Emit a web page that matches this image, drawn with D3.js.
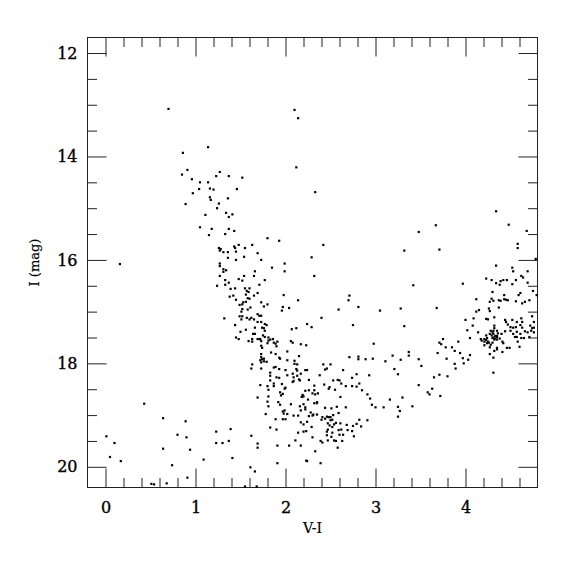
<!DOCTYPE html>
<html>
<head>
<meta charset="utf-8">
<script src="https://cdn.jsdelivr.net/npm/d3@7"></script>
<style>
  body { margin: 0; background: #fff; }
  svg { display: block; }
  .tick text { font-family: "DejaVu Serif", serif; font-size: 16px; fill: #000; stroke: #000; stroke-width: 0.35px; }
  .tick line { stroke: #222; }
  .axis-title { font-family: "DejaVu Serif", serif; font-size: 14px; fill: #000; stroke: #000; stroke-width: 0.2px; }
</style>
</head>
<body>
<svg id="chart" width="575" height="575"></svg>
<script>
// [V-I, I] pairs

// bright branch, V-I ~ 0.8 - 1.5
const upperBranch = [
  [0.70,13.08],[1.14,13.82],[0.86,13.93],[0.91,14.26],[0.85,14.35],[1.27,14.30],[1.23,14.38],[1.37,14.38],
  [0.96,14.44],[1.05,14.50],[1.14,14.50],[1.04,14.63],[1.16,14.62],[1.20,14.64],[1.46,14.63],
  [2.10,13.10],[2.14,13.26],[2.12,14.21],[1.52,14.41],[2.33,14.69],
  [0.97,14.71],[1.16,14.79],[1.17,14.84],[1.36,14.81],[0.89,14.92],[1.26,14.91],[1.24,15.00],[1.34,15.09],
  [1.41,15.12],[1.11,15.13],[1.37,15.17],[1.05,15.37],[1.18,15.40],[1.37,15.40],[1.43,15.44],[1.15,15.52],
  [1.33,15.50],[1.48,15.71],[1.43,15.74],[1.44,15.77],[1.26,15.77],[1.28,15.79],[1.27,15.82],[1.31,15.85],
  [1.36,15.85],[1.45,15.84],[1.36,15.96],[1.45,16.00],[0.16,16.08],[1.27,16.07],[1.27,16.12],[1.31,16.18],
  [1.34,16.20],[1.31,16.23],[1.27,16.31],[1.48,16.37],[1.33,16.39],[1.37,16.44],[1.24,16.50],[1.33,16.48],
  [1.39,16.56],[1.44,16.55],[1.38,16.71],[1.42,16.69],[1.45,16.77],[1.49,16.87],[1.32,17.13],[1.44,17.26],
  [1.45,17.50],[1.48,17.53]
];

// V-I ~ 1.5 - 3, I ~ 15.5 - 17.5
const midBranch = [
  [1.80,15.58],[1.93,15.63],[1.55,15.77],[1.63,15.71],[2.42,15.71],[1.69,15.87],[1.54,15.94],[2.29,15.95],
  [1.73,16.00],[1.99,16.07],[1.85,16.15],[1.99,16.22],[1.66,16.22],[1.54,16.31],[1.65,16.31],[2.32,16.31],
  [1.52,16.40],[1.77,16.39],[1.71,16.48],[1.55,16.55],[1.60,16.55],[1.57,16.60],[1.59,16.62],[1.69,16.64],
  [1.56,16.67],[1.65,16.69],[1.98,16.68],[2.71,16.69],[1.58,16.74],[1.60,16.75],[2.14,16.78],[2.70,16.78],
  [1.53,16.82],[1.56,16.81],[1.52,16.86],[1.73,16.82],[1.80,16.86],[1.76,16.90],[1.61,16.92],[1.97,16.91],
  [2.04,16.93],[2.81,16.91],[1.52,16.95],[1.58,16.96],[1.51,17.00],[1.96,16.98],[2.59,16.96],[3.05,16.98],
  [1.69,17.05],[1.71,17.08],[1.73,17.08],[1.49,17.09],[1.52,17.09],[1.57,17.12],[1.60,17.15],[1.62,17.12],
  [1.65,17.15],[1.51,17.15],[1.69,17.20],[1.73,17.20],[1.77,17.24],[1.79,17.26],[1.74,17.31],[1.76,17.32],
  [1.66,17.31],[1.56,17.35],[1.50,17.39],[2.24,17.24],[2.29,17.30],[2.07,17.34],[2.12,17.32],[2.40,17.12],
  [2.75,17.26],[1.64,17.43],[1.66,17.43],[1.77,17.37],[1.75,17.46],[1.77,17.49],[1.81,17.50],[1.86,17.53],
  [1.83,17.54],[1.63,17.53],[1.69,17.53],[1.71,17.53],[1.72,17.53]
];

// faint clump, V-I ~ 1.6 - 3.2, I ~ 17.5 - 20.4
const faintClump = [
  [1.59,17.57],[1.63,17.58],[1.73,17.57],[1.81,17.56],[1.87,17.60],[1.89,17.62],[1.91,17.58],[1.90,17.67],
  [1.80,17.61],[1.73,17.66],[1.74,17.70],[2.06,17.57],[2.08,17.60],[2.17,17.63],[2.23,17.65],[2.98,17.62],
  [2.02,17.77],[1.84,17.79],[1.89,17.82],[1.93,17.89],[1.94,17.91],[1.73,17.82],[1.73,17.88],[1.72,17.94],
  [1.74,17.92],[1.76,17.91],[1.76,17.96],[1.73,17.98],[1.79,17.97],[1.63,18.02],[1.62,18.10],[1.73,18.10],
  [2.15,17.86],[2.02,17.94],[2.10,17.95],[2.10,18.01],[2.13,18.02],[2.71,17.88],[2.81,17.87],[2.81,17.92],
  [2.89,17.92],[2.97,17.91],[3.11,17.96],[1.87,18.08],[1.89,18.07],[1.93,18.11],[2.00,18.13],[2.12,18.11],
  [2.13,18.14],[2.22,18.13],[2.24,18.13],[2.42,18.02],[2.50,18.02],[2.44,18.12],[2.46,18.10],[2.64,18.13],
  [2.79,18.21],[2.93,18.23],[1.83,18.18],[1.83,18.24],[1.90,18.27],[1.93,18.28],[2.02,18.23],[2.08,18.20],
  [2.09,18.27],[2.13,18.24],[2.17,18.20],[2.38,18.23],[2.26,18.32],[2.15,18.31],[2.16,18.33],[2.09,18.34],
  [2.08,18.36],[1.83,18.33],[1.87,18.39],[1.87,18.44],[1.96,18.40],[1.80,18.44],[1.81,18.51],[1.72,18.42],
  [1.99,18.49],[2.00,18.47],[2.32,18.43],[2.26,18.52],[2.48,18.49],[2.49,18.46],[2.53,18.33],[2.58,18.32],
  [2.43,18.41],[2.55,18.51],[2.60,18.33],[2.62,18.39],[2.67,18.44],[2.74,18.44],[2.79,18.45],[2.74,18.28],
  [2.82,18.39],[2.85,18.52],[2.91,18.60],[2.94,18.68],[2.96,18.80],[3.00,18.85],[3.09,18.85],[3.16,18.70],
  [1.94,18.56],[1.97,18.59],[1.95,18.62],[1.81,18.64],[1.69,18.66],[2.19,18.61],[2.22,18.53],[2.18,18.65],
  [2.20,18.64],[2.30,18.58],[2.32,18.52],[2.33,18.60],[2.36,18.58],[2.35,18.75],[2.25,18.70],[1.92,18.75],
  [1.94,18.80],[1.80,18.74],[1.81,18.83],[2.06,18.79],[2.20,18.79],[2.22,18.85],[2.22,18.89],[2.16,18.83],
  [2.17,18.91],[2.32,18.77],[2.35,18.77],[2.30,19.01],[2.44,18.86],[2.51,18.87],[2.53,19.00],[2.59,18.96],
  [2.57,18.84],[2.61,18.65],[2.67,18.85],[1.97,18.93],[1.98,18.97],[1.99,18.91],[2.02,18.98],[1.78,18.98],
  [1.89,19.08],[1.97,19.08],[2.00,19.08],[2.14,19.01],[2.09,19.01],[2.17,19.14],[2.20,19.18],[2.26,19.02],
  [2.28,18.95],[2.31,18.99],[2.35,18.99],[2.40,19.09],[2.41,19.04],[2.44,19.07],[2.46,19.03],[2.48,19.04],
  [2.50,19.04],[2.52,19.09],[2.47,19.16],[2.50,19.10],[2.49,19.20],[2.52,19.23],[2.54,19.18],[2.56,19.15],
  [2.47,19.28],[2.46,19.32],[2.52,19.34],[2.51,19.42],[2.54,19.49],[2.56,19.50],[2.61,19.16],[2.62,19.28],
  [2.59,19.29],[2.60,19.38],[2.64,19.38],[2.68,19.19],[2.75,19.21],[2.79,19.17],[2.84,19.22],[2.69,19.29],
  [2.74,19.31],[2.76,19.41],[2.82,19.09],[2.91,19.10],[2.14,19.34],[2.20,19.32],[2.23,19.31],[2.24,19.13],
  [2.29,19.23],[2.30,19.43],[2.39,19.50],[2.41,19.53],[2.47,19.49],[2.46,19.39],[2.63,19.50],[2.58,19.63],
  [2.11,19.49],[2.17,19.59],[2.04,19.59],[1.91,19.59],[1.90,19.28],[1.83,19.24],[1.69,19.55],[1.69,19.63],
  [1.62,19.40],[2.33,19.70],[2.23,19.88],[2.24,19.89],[2.39,19.93],[1.91,19.93],[1.61,20.01],[1.66,20.09],
  [1.55,20.38],[1.68,20.38]
];

// red stars, V-I > 3
const redSequence = [
  [4.34,15.06],[3.67,15.33],[3.48,15.46],[4.48,15.32],[4.68,15.44],[3.32,15.82],[3.71,15.80],[4.58,15.69],
  [4.58,15.77],[4.78,15.98],[4.34,16.11],[4.52,16.15],[4.53,16.22],[4.69,16.22],[4.62,16.31],[4.64,16.34],
  [4.23,16.36],[4.29,16.39],[4.39,16.41],[4.42,16.39],[4.46,16.39],[4.56,16.39],[4.34,16.45],[4.38,16.48],
  [4.69,16.44],[4.52,16.47],[3.42,16.49],[3.97,16.46],[4.75,16.60],[4.79,16.68],[4.30,16.62],[4.61,16.64],
  [4.59,16.68],[4.43,16.68],[4.29,16.75],[4.31,16.79],[4.43,16.76],[4.45,16.77],[4.37,16.78],[4.39,16.79],
  [4.47,16.78],[4.56,16.80],[4.63,16.84],[4.66,16.81],[4.71,16.78],[4.12,16.76],[4.27,16.81],[4.37,16.92],
  [4.26,16.94],[4.27,16.99],[4.15,16.97],[4.12,17.00],[4.09,17.13],[4.32,17.11],[3.68,16.93],[3.28,16.94],
  [4.00,17.16],[4.23,17.14],[4.25,17.15],[4.44,17.16],[4.45,17.20],[4.52,17.16],[4.57,17.20],[4.62,17.13],
  [4.63,17.20],[4.74,17.09],[4.76,17.20],[4.08,17.27],[4.32,17.27],[4.32,17.32],[4.47,17.25],[4.50,17.30],
  [4.53,17.31],[4.56,17.30],[4.61,17.26],[4.63,17.31],[4.72,17.27],[4.74,17.32],[4.76,17.31],[3.32,17.28],
  [4.02,17.36],[4.14,17.40],[4.23,17.46],[4.28,17.37],[4.30,17.40],[4.31,17.37],[4.35,17.37],[4.36,17.42],
  [4.27,17.43],[4.29,17.46],[4.31,17.43],[4.33,17.47],[4.35,17.47],[4.40,17.43],[4.44,17.38],[4.50,17.37],
  [4.53,17.43],[4.57,17.39],[4.61,17.43],[4.66,17.38],[4.69,17.40],[4.73,17.37],[4.76,17.40],[4.55,17.49],
  [4.57,17.49],[4.62,17.51],[4.65,17.51],[4.05,17.51],[4.17,17.53],[4.21,17.53],[4.24,17.51],[4.30,17.51],
  [4.31,17.50],[4.33,17.52],[4.35,17.49],[4.38,17.52],[3.75,17.53],
  [3.19,17.85],[3.21,18.11],[3.25,18.21],[3.28,17.93],[3.37,17.78],[3.37,17.85],[3.48,17.92],[3.51,18.05],
  [3.48,18.42],[3.30,18.66],[3.25,18.84],[3.27,18.92],[3.25,19.03],[3.41,18.83],[3.58,18.56],[3.60,18.60],
  [3.63,18.49],[3.72,18.63],[3.65,18.27],[3.71,18.22],[3.80,18.25],[3.69,17.80],[3.71,17.60],[3.73,17.63],
  [3.78,17.69],[3.79,17.91],[3.85,17.69],[3.88,17.76],[3.92,17.58],[3.94,17.80],[3.88,18.01],[3.89,18.10],
  [3.97,17.90],[3.98,18.00],[4.03,17.93],[4.05,17.84],[4.18,17.56],[4.21,17.58],[4.23,17.55],[4.25,17.58],
  [4.21,17.65],[4.24,17.61],[4.26,17.60],[4.28,17.64],[4.30,17.60],[4.32,17.54],[4.35,17.54],[4.27,17.69],
  [4.27,17.82],[4.31,17.89],[4.32,17.76],[4.35,17.70],[4.31,18.18],[4.41,17.58],[4.42,17.61],[4.41,17.78],
  [4.35,17.73],[4.46,17.70],[4.49,17.70],[4.58,17.58],[4.60,17.68],[4.71,17.49]
];

// scattered blue, faint stars
const blueField = [
  [0.43,18.78],[0.64,19.06],[0.89,19.12],[0.01,19.41],[0.10,19.54],[0.80,19.38],[0.90,19.43],[1.23,19.32],
  [1.23,19.54],[1.30,19.54],[1.37,19.50],[1.39,19.27],[0.64,19.65],[0.94,19.67],[1.41,19.83],[0.05,19.81],
  [0.17,19.89],[1.09,19.86],[0.74,19.97],[0.91,20.21],[0.51,20.33],[0.54,20.34],[0.68,20.32]
];

const xMajor = [0, 1, 2, 3, 4];
const yMajor = [12, 14, 16, 18, 20];

const svg = d3.select("#chart");
const frame = { left: 87.5, right: 537.5, top: 37.5, bottom: 487.5 };

const x = d3.scaleLinear().domain([-0.2, 4.8]).range([frame.left, frame.right]);
const y = d3.scaleLinear().domain([11.7, 20.4]).range([frame.top, frame.bottom]);

// minor ticks: every 0.2 in V-I, every 0.5 in I
const xMinor = d3.range(-0.2, 4.81, 0.2).map(v => +v.toFixed(1))
                 .filter(v => v > -0.2 && v < 4.8 && !xMajor.includes(v));
const yMinor = d3.range(12, 20.41, 0.5).filter(v => !yMajor.includes(v));

function addAxis(axis, transform, withLabels) {
    const g = svg.append("g").attr("transform", transform).call(axis);
    g.select(".domain").remove();
    if (!withLabels) g.selectAll("text").remove();
    return g;
}

// bottom / top
addAxis(d3.axisBottom(x).tickValues(xMinor).tickSize(-9.5).tickFormat(""), `translate(0,${frame.bottom})`, false);
addAxis(d3.axisBottom(x).tickValues(xMajor).tickSize(-19).tickPadding(14.6).tickFormat(d3.format("d")),
        `translate(0,${frame.bottom})`, true);
addAxis(d3.axisTop(x).tickValues(xMinor).tickSize(-9.5).tickFormat(""), `translate(0,${frame.top})`, false);
addAxis(d3.axisTop(x).tickValues(xMajor).tickSize(-19).tickFormat(""), `translate(0,${frame.top})`, false);

// left / right
addAxis(d3.axisLeft(y).tickValues(yMinor).tickSize(-9.5).tickFormat(""), `translate(${frame.left},0)`, false);
addAxis(d3.axisLeft(y).tickValues(yMajor).tickSize(-19).tickPadding(10).tickFormat(d3.format("d")),
        `translate(${frame.left},0)`, true);
addAxis(d3.axisRight(y).tickValues(yMinor).tickSize(-9.5).tickFormat(""), `translate(${frame.right},0)`, false);
addAxis(d3.axisRight(y).tickValues(yMajor).tickSize(-19).tickFormat(""), `translate(${frame.right},0)`, false);

svg.append("rect")
   .attr("x", frame.left).attr("y", frame.top)
   .attr("width", frame.right - frame.left).attr("height", frame.bottom - frame.top)
   .attr("fill", "none").attr("stroke", "#222").attr("stroke-width", 1);

// stars
const stars = [].concat(upperBranch, midBranch, faintClump, redSequence, blueField);
const s = 2.2;
svg.append("g")
   .selectAll("rect")
   .data(stars)
   .enter()
   .append("rect")
   .attr("x", d => x(d[0]) - s / 2)
   .attr("y", d => y(d[1]) - s / 2)
   .attr("width", s)
   .attr("height", s)
   .attr("fill", "#000");

svg.append("text")
   .attr("class", "axis-title")
   .attr("x", (frame.left + frame.right) / 2)
   .attr("y", 532.7)
   .attr("text-anchor", "middle")
   .text("V-I");

svg.append("text")
   .attr("class", "axis-title")
   .attr("transform", "translate(39,262.5) rotate(-90)")
   .attr("text-anchor", "middle")
   .style("font-size", "13px")
   .text("I (mag)");
</script>
</body>
</html>
